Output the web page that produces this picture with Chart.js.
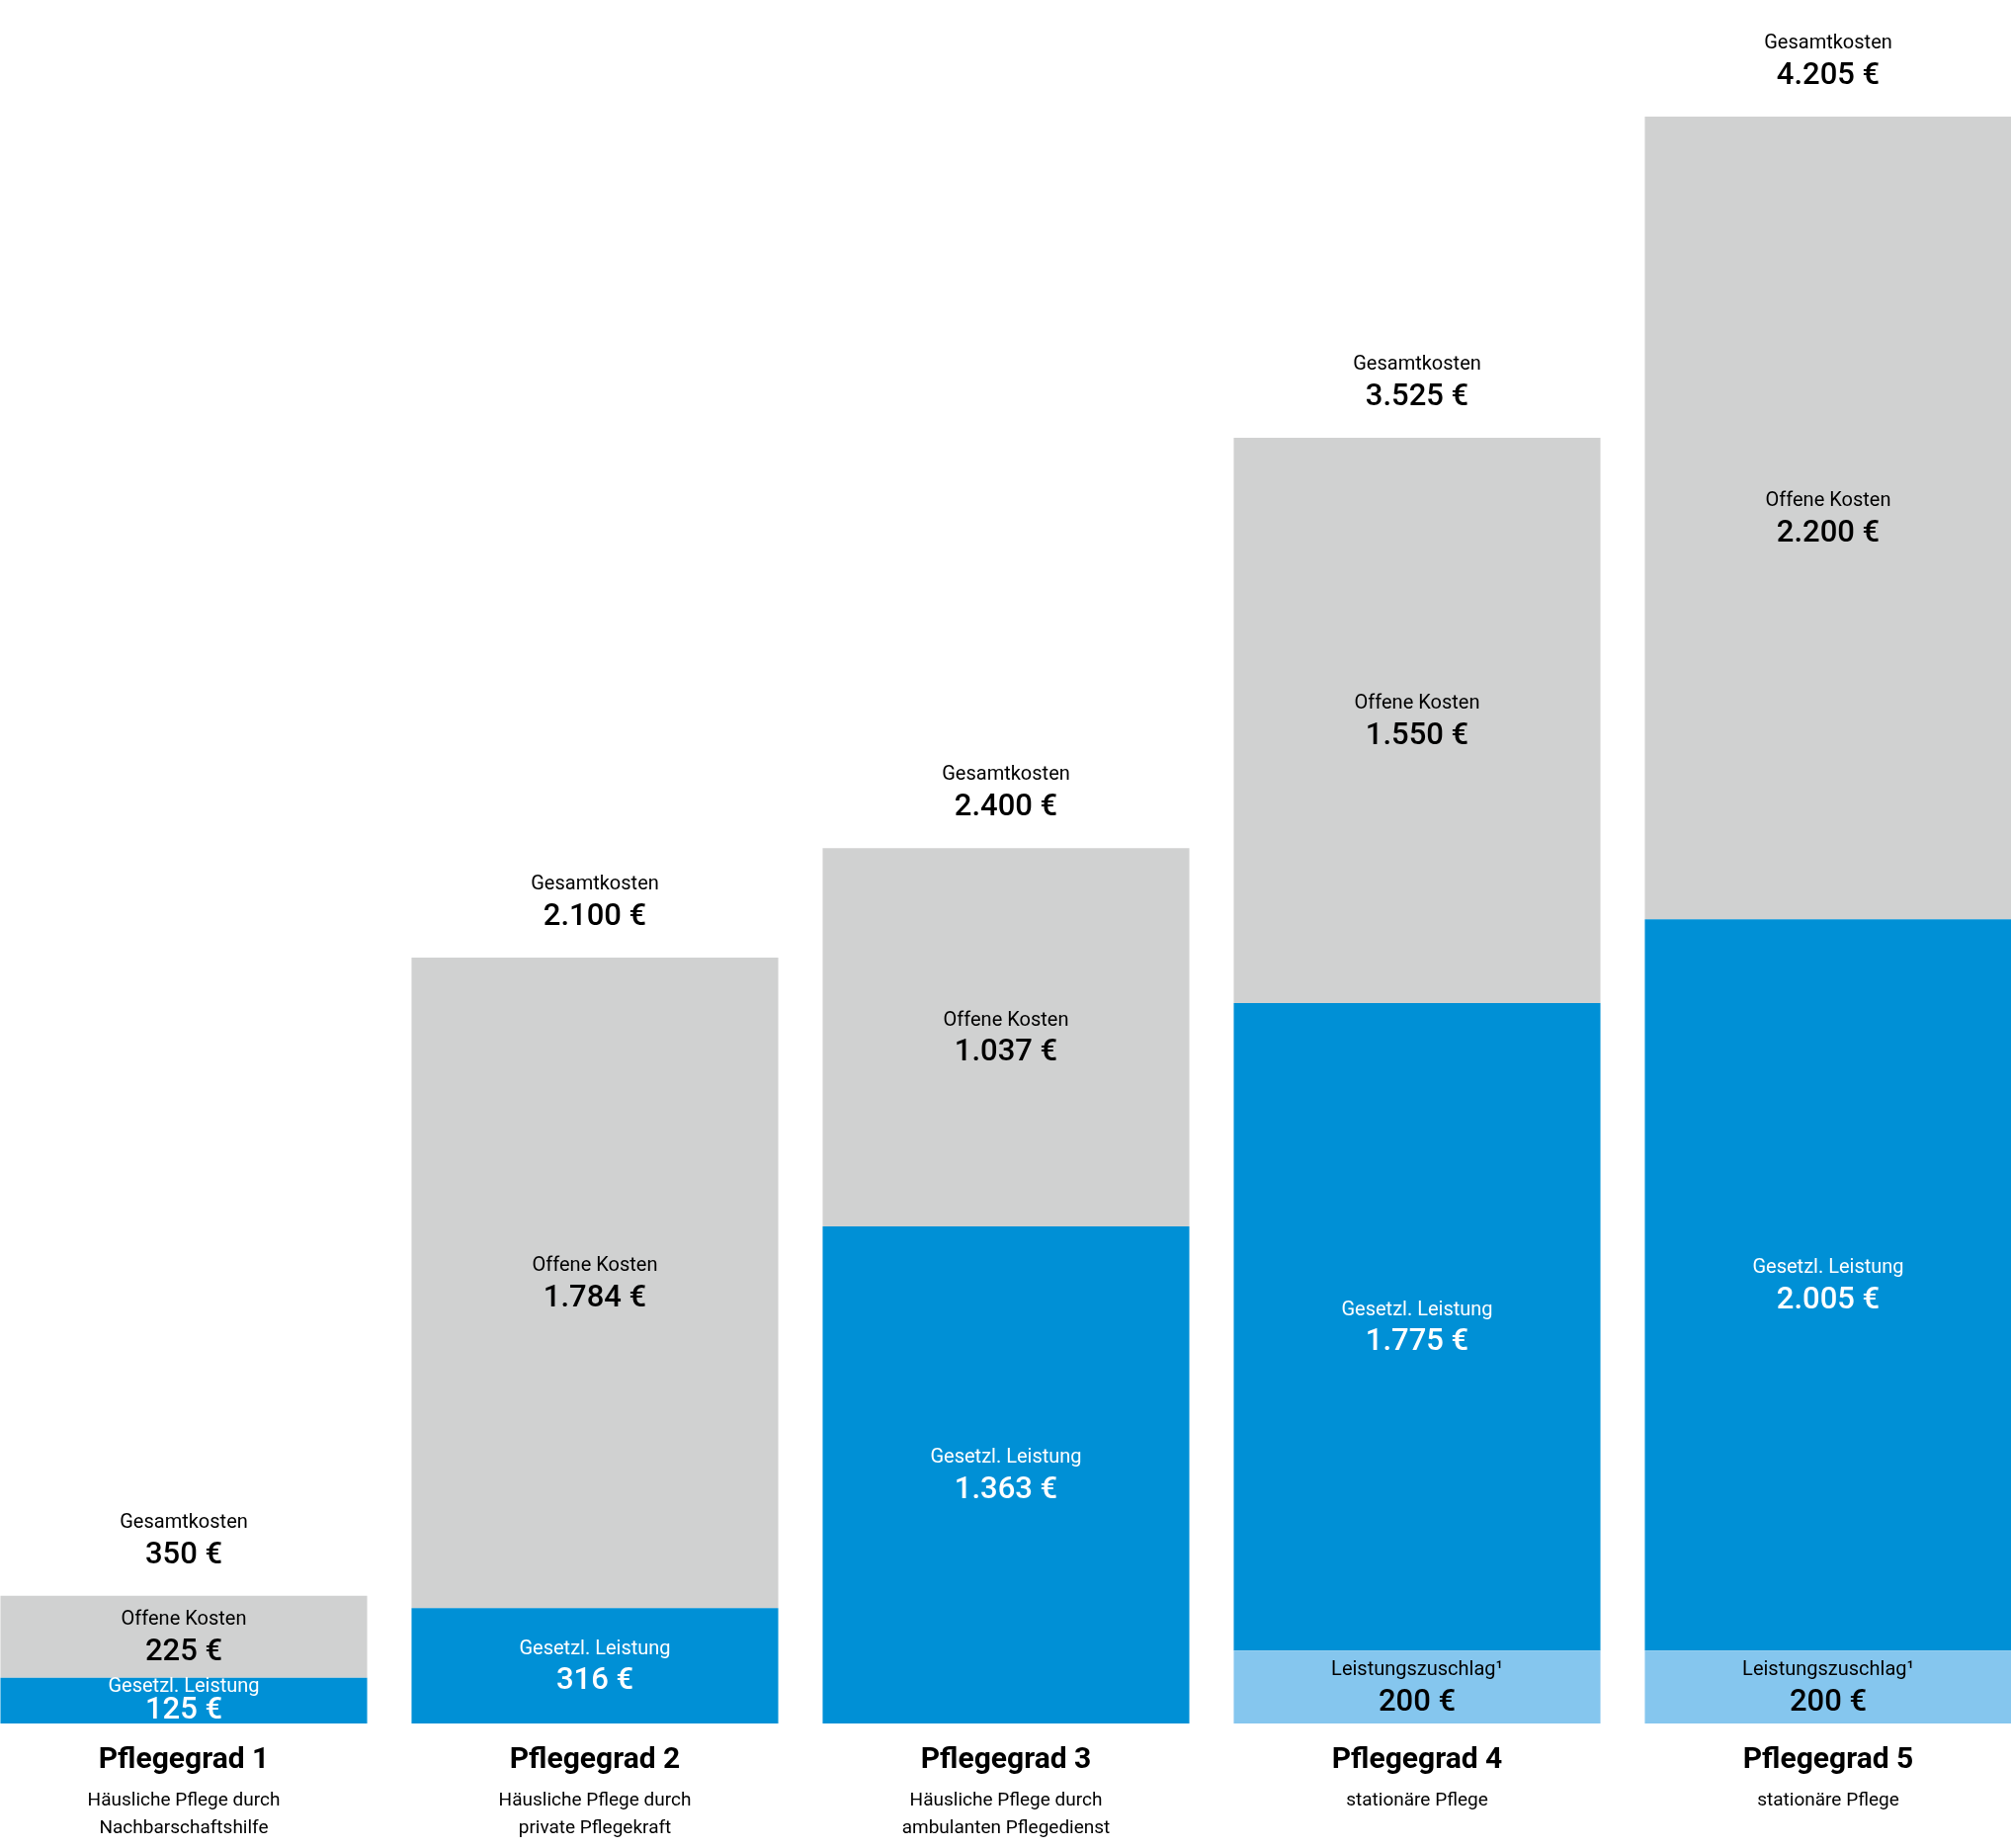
<!DOCTYPE html>
<html>
<head>
<meta charset="utf-8">
<script src="https://cdn.jsdelivr.net/npm/chart.js@4/dist/chart.umd.min.js"></script>
<style>
  html, body { margin: 0; padding: 0; background: #fff; overflow: hidden; }
  #wrap { position: relative; width: 2035px; height: 1870px; overflow: hidden; }
  #myChart { position: absolute; left: -22px; top: 0; }
</style>
</head>
<body>
<div id="wrap"><canvas id="myChart" width="2080" height="1870"></canvas></div>
<script>
// Daten
var categories = ['Pflegegrad 1', 'Pflegegrad 2', 'Pflegegrad 3', 'Pflegegrad 4', 'Pflegegrad 5'];
var subtitles = [
  ['Häusliche Pflege durch', 'Nachbarschaftshilfe'],
  ['Häusliche Pflege durch', 'private Pflegekraft'],
  ['Häusliche Pflege durch', 'ambulanten Pflegedienst'],
  ['stationäre Pflege'],
  ['stationäre Pflege']
];
var zuschlag = [0, 0, 0, 200, 200];          // Leistungszuschlag¹
var leistung = [125, 316, 1363, 1775, 2005];  // Gesetzl. Leistung
var offen = [225, 1784, 1037, 1550, 2200];    // Offene Kosten
var gesamt = [350, 2100, 2400, 3525, 4205];   // Gesamtkosten (wie angegeben)

var FONT = 'Roboto, "Noto Sans", sans-serif';

function euro(n){
  return String(n).replace(/\B(?=(\d{3})+(?!\d))/g, '.') + ' €';
}

// Beschriftungen in / ueber / unter den Balken
var labelPlugin = {
  id: 'labelPlugin',
  afterDatasetsDraw: function(chart){
    var ctx = chart.ctx;
    ctx.save();
    ctx.textAlign = 'center';
    ctx.textBaseline = 'middle';
    chart.data.datasets.forEach(function(ds, di){
      var meta = chart.getDatasetMeta(di);
      meta.data.forEach(function(bar, i){
        var v = ds.data[i];
        if (!v) return;
        var h = bar.base - bar.y;
        var mid = (bar.y + bar.base) / 2;
        // kleine Segmente: Zeilen enger setzen
        var up = h < 60 ? 13 : 17, down = h < 60 ? 11 : 16;
        if (h < 60) mid -= 1;
        ctx.fillStyle = ds.textColor;
        ctx.font = '20px ' + FONT;
        ctx.fillText(ds.label, bar.x, mid - up);
        ctx.font = '500 31px ' + FONT;
        ctx.fillText(euro(v), bar.x, mid + down);
      });
    });
    // Gesamtkosten oben
    var last = chart.getDatasetMeta(chart.data.datasets.length - 1);
    last.data.forEach(function(bar, i){
      ctx.fillStyle = '#000';
      ctx.font = '20px ' + FONT;
      ctx.fillText('Gesamtkosten', bar.x, bar.y - 74);
      ctx.font = '500 31px ' + FONT;
      ctx.fillText(euro(gesamt[i]), bar.x, bar.y - 41);
    });
    // Kategorien unten
    var xs = chart.scales.x, base = chart.chartArea.bottom;
    categories.forEach(function(c, i){
      var x = xs.getPixelForValue(i);
      ctx.fillStyle = '#000';
      ctx.font = 'bold 30px ' + FONT;
      ctx.fillText(c, x, base + 37);
      ctx.font = '19px ' + FONT;
      subtitles[i].forEach(function(s, k){
        ctx.fillText(s, x, base + 78 + k * 28);
      });
    });
    ctx.restore();
  }
};

var myData = {
  labels: categories,
  datasets: [{
    label: 'Leistungszuschlag¹',
    data: zuschlag,
    backgroundColor: '#85C6EE',
    textColor: '#000'
  }, {
    label: 'Gesetzl. Leistung',
    data: leistung,
    backgroundColor: '#0090D6',
    textColor: '#fff'
  }, {
    label: 'Offene Kosten',
    data: offen,
    backgroundColor: '#D0D1D1',
    textColor: '#000'
  }]
};

var myConfig = {
  type: 'bar',
  data: myData,
  options: {
    responsive: false,
    animation: false,
    devicePixelRatio: 1,
    layout: { padding: { top: 0, bottom: 126, left: 0, right: 0 } },
    datasets: { bar: { categoryPercentage: 1, barPercentage: 0.892, borderWidth: 0 } },
    plugins: { legend: { display: false }, tooltip: { enabled: false } },
    scales: {
      x: { stacked: true, display: false },
      y: { stacked: true, display: false, min: 0, max: 4725 }
    }
  },
  plugins: [labelPlugin]
};

var ctx1 = document.getElementById('myChart').getContext('2d');
var myBar = new Chart(ctx1, myConfig);
</script>
</body>
</html>
